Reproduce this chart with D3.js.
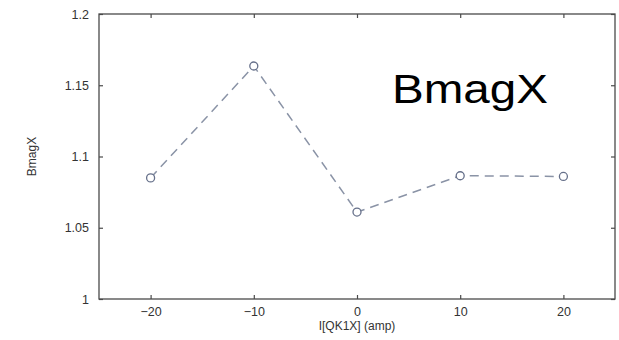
<!DOCTYPE html>
<html><head><meta charset="utf-8">
<script src="https://cdn.jsdelivr.net/npm/d3@7"></script>
<style>body{margin:0;background:#fff}svg{display:block}</style>
</head><body>
<script>
const currents = [-20, -10, 0, 10, 20];
const bmagX = [1.085, 1.1635, 1.061, 1.0865, 1.086];
const xTicks = [-20, -10, 0, 10, 20];
const yTicks = [1, 1.05, 1.1, 1.15, 1.2];
const yTickLabels = ["1", "1.05", "1.1", "1.15", "1.2"];

const W = 619, H = 340;
const svg = d3.select("body").append("svg").attr("width", W).attr("height", H);
const L = 99, R = 615, T = 14, B = 299;
const x = d3.scaleLinear().domain([-25, 25]).range([L, R]);
const y = d3.scaleLinear().domain([1, 1.2]).range([B, T]);
const axisColor = "#4a4a4a";
const font = "Liberation Sans, Arial, sans-serif";

// frame
svg.append("rect").attr("x", L).attr("y", T).attr("width", R - L).attr("height", B - T)
  .attr("fill", "none").attr("stroke", axisColor).attr("stroke-width", 1.3);

const tl = 4;
const gB = svg.append("g").attr("transform", `translate(0,${B})`)
  .call(d3.axisBottom(x).tickValues(xTicks).tickSize(-tl).tickPadding(8).tickFormat(d3.format("d")));
const gT = svg.append("g").attr("transform", `translate(0,${T})`)
  .call(d3.axisTop(x).tickValues(xTicks).tickSize(-tl).tickFormat(""));
const gL = svg.append("g").attr("transform", `translate(${L},0)`)
  .call(d3.axisLeft(y).tickValues(yTicks).tickSize(-tl).tickPadding(10).tickFormat((d, i) => yTickLabels[i]));
const gR = svg.append("g").attr("transform", `translate(${R},0)`)
  .call(d3.axisRight(y).tickValues(yTicks).tickSize(-tl).tickFormat(""));
[gB, gT, gL, gR].forEach(g => {
  g.select(".domain").remove();
  g.selectAll(".tick line").attr("stroke", axisColor).attr("stroke-width", 1.2);
  g.selectAll(".tick text").attr("fill", "#333").attr("font-family", font).attr("font-size", 12.5);
});

// axis labels
svg.append("text").attr("x", x(0)).attr("y", 330).attr("text-anchor", "middle")
  .attr("font-family", font).attr("font-size", 12).attr("fill", "#333").text("I[QK1X] (amp)");
svg.append("text").attr("transform", `translate(36,${(T + B) / 2}) rotate(-90)`).attr("text-anchor", "middle")
  .attr("font-family", font).attr("font-size", 12).attr("fill", "#333").text("BmagX");

// data
const pts = currents.map((c, i) => [c, bmagX[i]]);
const lineColor = "#8a93a6";
svg.append("path").datum(pts)
  .attr("d", d3.line().x(d => x(d[0])).y(d => y(d[1])))
  .attr("fill", "none").attr("stroke", lineColor).attr("stroke-width", 1.5)
  .attr("stroke-dasharray", "9,6");
svg.selectAll("circle.pt").data(pts).join("circle").attr("class", "pt")
  .attr("cx", d => x(d[0])).attr("cy", d => y(d[1])).attr("r", 4)
  .attr("fill", "#fff").attr("stroke", "#66708a").attr("stroke-width", 1.3);

// annotation
svg.append("text").attr("x", 392).attr("y", 103).attr("font-family", font)
  .attr("font-size", 40).attr("textLength", 156).attr("lengthAdjust", "spacingAndGlyphs")
  .attr("fill", "#000").text("BmagX");
</script>
</body></html>
